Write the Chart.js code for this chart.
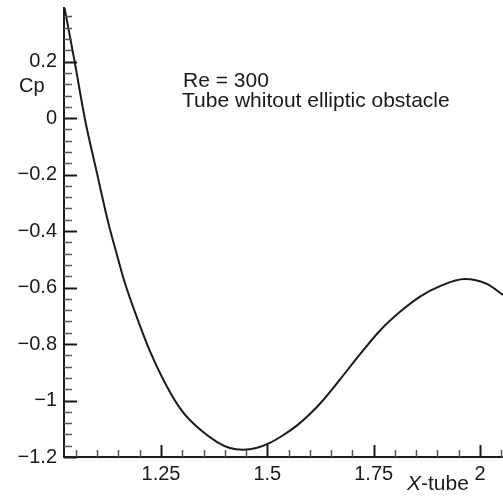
<!DOCTYPE html>
<html>
<head>
<meta charset="utf-8">
<script src="https://cdn.jsdelivr.net/npm/chart.js@4.4.1/dist/chart.umd.min.js"></script>
<style>
  html, body { margin: 0; padding: 0; background: #fff; }
  #cpChart { display: block; }
</style>
</head>
<body>
<canvas id="cpChart" width="503" height="500"></canvas>
<script>
// pressure coefficient along the tube wall
const xTube = [1.022, 1.048, 1.071, 1.097, 1.126, 1.147, 1.165, 1.194, 1.224, 1.271,
               1.302, 1.342, 1.382, 1.412, 1.443, 1.476, 1.506, 1.537, 1.570, 1.600,
               1.631, 1.671, 1.718, 1.765, 1.812, 1.859, 1.906, 1.964, 2.016, 2.054];
const cp = [0.400, 0.192, -0.002, -0.178, -0.370, -0.487, -0.583, -0.708, -0.825, -0.970,
            -1.042, -1.103, -1.147, -1.168, -1.174, -1.167, -1.150, -1.123, -1.088, -1.048,
            -0.999, -0.925, -0.836, -0.752, -0.686, -0.632, -0.595, -0.570, -0.587, -0.626];

const xMajorTicks = [1.25, 1.5, 1.75, 2];
const yMajorTicks = [-1.2, -1, -0.8, -0.6, -0.4, -0.2, 0, 0.2];
const xMinorStep = 0.05;
const yMinorStep = 0.04;
const xRange = [1.022, 2.054];
const yRange = [-1.2, 0.39];

const annotation = ['Re = 300', 'Tube whitout elliptic obstacle'];

const FONT = "'Liberation Sans', Arial, Helvetica, sans-serif";
const INK = '#1a1a1a';

function fmtTick(v) {
    const s = String(Math.round(v * 100) / 100);
    return s.replace('-', '\u2212');
}

// inward tick marks, axis titles and the note text
const decorations = {
    id: 'decorations',
    afterDatasetsDraw(chart) {
        const { ctx, chartArea, scales: { x, y } } = chart;
        ctx.save();
        ctx.lineCap = 'butt';

        // x axis ticks
        for (let i = 1; ; i++) {
            const v = Math.round(i * xMinorStep * 1000) / 1000 + 1;
            if (v > xRange[1]) break;
            if (v < xRange[0]) continue;
            const major = xMajorTicks.some(t => Math.abs(t - v) < 1e-6);
            const px = Math.round(x.getPixelForValue(v)) + 0.5;
            ctx.strokeStyle = major ? INK : '#555';
            ctx.lineWidth = major ? 2 : 1.5;
            ctx.beginPath();
            ctx.moveTo(px, chartArea.bottom);
            ctx.lineTo(px, chartArea.bottom - (major ? 12 : 7));
            ctx.stroke();
        }

        // y axis ticks
        for (let i = 0; ; i++) {
            const v = Math.round((yRange[0] + i * yMinorStep) * 1000) / 1000;
            if (v > yRange[1]) break;
            const major = yMajorTicks.some(t => Math.abs(t - v) < 1e-6);
            const py = Math.round(y.getPixelForValue(v)) + 0.5;
            ctx.strokeStyle = major ? INK : '#555';
            ctx.lineWidth = major ? 2 : 1.5;
            ctx.beginPath();
            ctx.moveTo(chartArea.left, py);
            ctx.lineTo(chartArea.left + (major ? 13 : 8), py);
            ctx.stroke();
        }

        ctx.fillStyle = INK;
        ctx.textBaseline = 'alphabetic';
        ctx.textAlign = 'left';

        // y title, horizontal, between 0.2 and 0
        ctx.font = '20px ' + FONT;
        ctx.fillText('Cp', 19, 92);

        // x title with italic X
        ctx.font = 'italic 21px ' + FONT;
        ctx.fillText('X', 407, 490);
        const wX = ctx.measureText('X').width;
        ctx.font = '21px ' + FONT;
        ctx.fillText('-tube', 407 + wX, 490);

        // note
        ctx.font = '21px ' + FONT;
        ctx.fillText(annotation[0], 183, 87);
        ctx.fillText(annotation[1], 182, 107);

        ctx.restore();
    }
};

const ctx = document.getElementById('cpChart').getContext('2d');

new Chart(ctx, {
    type: 'line',
    data: {
        datasets: [{
            data: xTube.map((v, i) => ({ x: v, y: cp[i] })),
            borderColor: '#1a1a1a',
            borderWidth: 2,
            pointRadius: 0,
            fill: false,
            cubicInterpolationMode: 'monotone'
        }]
    },
    options: {
        responsive: false,
        animation: false,
        layout: { padding: { left: 0, top: 8, right: 0, bottom: 0 } },
        plugins: {
            legend: { display: false },
            tooltip: { enabled: false }
        },
        scales: {
            x: {
                type: 'linear',
                min: xRange[0],
                max: xRange[1],
                afterBuildTicks: scale => {
                    scale.ticks = xMajorTicks.map(v => ({ value: v }));
                },
                afterFit: scale => {
                    scale.height = 43;
                    scale.paddingLeft = 0;
                    scale.paddingRight = 0;
                },
                grid: { display: false, drawTicks: false },
                border: { display: true, color: INK, width: 2 },
                ticks: {
                    color: INK,
                    padding: 5,
                    maxRotation: 0,
                    autoSkip: false,
                    font: { family: FONT, size: 20 },
                    callback: v => fmtTick(v)
                }
            },
            y: {
                type: 'linear',
                min: yRange[0],
                max: yRange[1],
                afterBuildTicks: scale => {
                    scale.ticks = yMajorTicks.map(v => ({ value: v }));
                },
                afterFit: scale => {
                    scale.width = 64;
                    scale.paddingTop = 0;
                    scale.paddingBottom = 0;
                },
                grid: { display: false, drawTicks: false },
                border: { display: true, color: INK, width: 2 },
                ticks: {
                    color: INK,
                    padding: 7,
                    autoSkip: false,
                    font: { family: FONT, size: 20 },
                    callback: v => fmtTick(v)
                }
            }
        }
    },
    plugins: [decorations]
});
</script>
</body>
</html>
